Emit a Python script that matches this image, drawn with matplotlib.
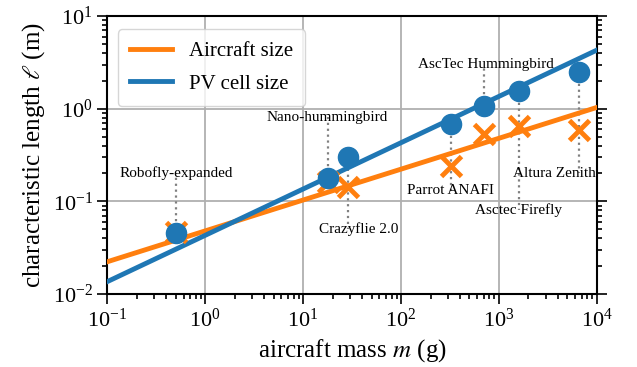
import numpy as np
import matplotlib
matplotlib.use('Agg')
from matplotlib import pyplot as plt

plt.rcParams['font.family'] = ['Liberation Serif', 'DejaVu Serif']
plt.rcParams['mathtext.fontset'] = 'stix'

# aircraft data
names = ['Robofly-expanded', 'Nano-hummingbird', 'Crazyflie 2.0', 'Parrot ANAFI',
         'AscTec Hummingbird', 'Asctec Firefly', 'Altura Zenith']
mass = [0.5, 18, 29, 320, 710, 1600, 6600]            # g
pv_size = [0.046, 0.178, 0.30, 0.68, 1.07, 1.55, 2.5]  # m
ac_size = [0.047, 0.16, 0.144, 0.24, 0.54, 0.65, 0.59] # m

# label placement (data coords)
label_x = [0.5, 17.4, 37, 318, 733, 1600, 3640]
label_y = [0.2, 0.81, 0.05, 0.13, 3.0, 0.081, 0.2]

# power-law fits  l = a * m^b
ac_fit = (0.048, 1/3)
pv_fit = (0.043, 0.5)

orange = '#ff7f0e'
blue = '#1f77b4'

fig = plt.figure(figsize=(6.37, 3.67), dpi=100)
ax = fig.add_axes([0.1685, 0.199, 0.7685, 0.757])

mm = np.logspace(-1, 4, 50)
ax.plot(mm, ac_fit[0]*mm**ac_fit[1], color=orange, lw=3.5, label='Aircraft size', zorder=3)
ax.plot(mm, pv_fit[0]*mm**pv_fit[1], color=blue, lw=3.5, label='PV cell size', zorder=3)

# dotted leader lines
for m, l, ly in zip(mass, pv_size, label_y):
    ax.plot([m, m], [l, ly], ls=':', color='gray', lw=1.6, zorder=2)

ax.plot(mass, ac_size, 'x', color=orange, ms=14, mew=3.5, zorder=4)
ax.plot(mass, pv_size, 'o', color=blue, ms=14.5, zorder=5)

for n, x, y in zip(names, label_x, label_y):
    ax.text(x, y, n, ha='center', va='center', fontsize=11, zorder=6)

ax.set_xscale('log')
ax.set_yscale('log')
ax.set_xlim(1e-1, 1e4)
ax.set_ylim(1e-2, 1e1)
ax.grid(True, which='major', color='#b0b0b0', lw=1.3)
ax.tick_params(which='both', direction='out', right=True, top=False, labelsize=16, width=1.2)
ax.tick_params(which='major', length=7)
ax.tick_params(which='minor', length=3.5)
for s in ax.spines.values():
    s.set_linewidth(1.5)

ax.set_xlabel('aircraft mass $m$ (g)', fontsize=18)
ax.set_ylabel(r'characteristic length $\ell$ (m)', fontsize=18)
ax.legend(loc='upper left', fontsize=15, handlelength=2, borderpad=0.6,
          labelspacing=0.6, bbox_to_anchor=(0.0, 0.99))

fig.savefig('out.png', dpi=100)
